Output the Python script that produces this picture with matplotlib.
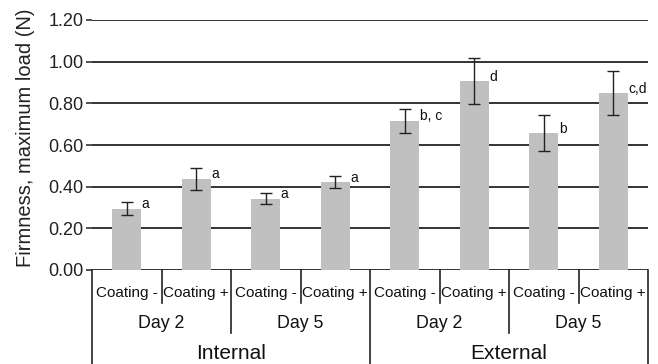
import numpy as np
import matplotlib
matplotlib.use("Agg")
import matplotlib.pyplot as plt

plt.rcParams["font.family"] = ["Liberation Sans", "DejaVu Sans"]

# firmness means and standard deviations, one per coating/day/location
coating = ["Coating -", "Coating +"] * 4
days = ["Day 2", "Day 5", "Day 2", "Day 5"]
location = ["Internal", "External"]
means = [0.295, 0.437, 0.343, 0.422, 0.716, 0.907, 0.657, 0.848]
errs = [0.030, 0.055, 0.025, 0.030, 0.057, 0.112, 0.085, 0.105]
letters = ["a", "a", "a", "a", "b, c", "d", "b", "c,d"]
yticks = [0.0, 0.2, 0.4, 0.6, 0.8, 1.0, 1.2]

fig = plt.figure(figsize=(6.58, 3.64), dpi=100)
ax = fig.add_axes([92 / 658, 94 / 364, 556 / 658, 250 / 364])

x = np.arange(len(means))
bw = 0.42
ax.bar(x, means, width=bw, color="#c0c0c0", zorder=2)
ax.errorbar(x, means, yerr=errs, fmt="none", ecolor="#222222",
            elinewidth=1.0, capsize=4, capthick=1.0, zorder=3)
for xi, m, lab in zip(x, means, letters):
    ax.text(xi + bw / 2 + 0.005, m - 0.012, lab, fontsize=10,
            ha="left", va="bottom", color="#111111", zorder=4)

ax.set_xlim(-0.5, 7.5)
ax.set_ylim(0, 1.2)
ax.set_yticks(yticks)
ax.set_yticklabels([f"{t:.2f}" for t in yticks], fontsize=13, color="#222222")
for t in yticks:
    ax.axhline(t, color="#333333", lw=1.4, zorder=1)
ax.tick_params(axis="y", length=4, width=1.2, color="#333333", pad=2)
ax.set_xticks([])
for s in ax.spines.values():
    s.set_visible(False)
ax.set_ylabel("Firmness, maximum load (N)", fontsize=14.5, color="#222222")
ax.yaxis.set_label_coords(-57 / 556, 0.53)

# hierarchical category table under the axis
tr = ax.get_xaxis_transform()
lc = "#222222"
for xs in [0.5, 2.5, 4.5, 6.5]:
    ax.plot([xs, xs], [0, -0.131], color=lc, lw=1.2, transform=tr, clip_on=False)
for xs in [1.5, 5.5]:
    ax.plot([xs, xs], [0, -0.252], color=lc, lw=1.2, transform=tr, clip_on=False)
for xs in [-0.5, 3.5, 7.5]:
    ax.plot([xs, xs], [0, -0.376], color=lc, lw=1.2, transform=tr, clip_on=False)

for xi, lab in zip(x, coating):
    ax.text(xi, -0.092, lab, fontsize=11, ha="center", va="center",
            transform=tr, color="#111111")
for i, lab in enumerate(days):
    ax.text(2 * i + 0.5, -0.214, lab, fontsize=12.8, ha="center", va="center",
            transform=tr, color="#111111")
for i, lab in enumerate(location):
    ax.text(4 * i + 1.5, -0.334, lab, fontsize=15, ha="center", va="center",
            transform=tr, color="#111111")

fig.savefig("out.png", dpi=100)
